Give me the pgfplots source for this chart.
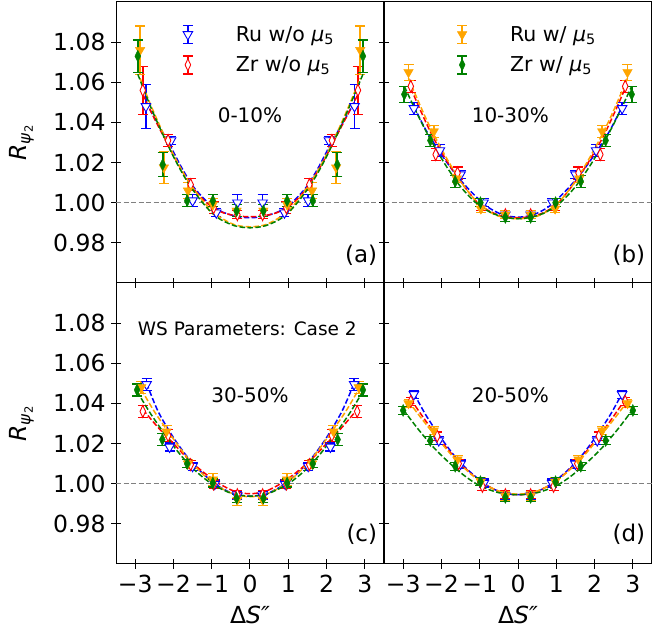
\documentclass[border=0pt]{standalone}
\usepackage{fontspec}
\setmainfont{DejaVu Sans}
\usepackage{pgfplots}
\pgfplotsset{compat=1.18}
\definecolor{cblue}{RGB}{0,0,255}
\definecolor{cred}{RGB}{255,0,0}
\definecolor{corange}{RGB}{255,165,0}
\definecolor{cgreen}{RGB}{0,128,0}
\pgfplotsset{
  ebars/.style={error bars/y dir=both, error bars/y explicit,
    error bars/error bar style={line width=1.6pt},
    error bars/error mark options={rotate=90, mark size=5pt, line width=1.3pt}},
  ruwo/.style={color=cblue, only marks, mark=triangle*, mark size=5.5pt, mark options={rotate=180, fill=white, line width=0.9pt}},
  zrwo/.style={color=cred, only marks, mark=diamond*, mark size=6pt, mark options={xscale=0.62, fill=white, line width=0.9pt}},
  ruw/.style={color=corange, only marks, mark=triangle*, mark size=5.5pt, mark options={rotate=180, fill=corange}},
  zrw/.style={color=cgreen, only marks, mark=diamond*, mark size=6pt, mark options={xscale=0.65, fill=cgreen}},
  fitc/.style={line width=1.5pt, dash pattern=on 5.5pt off 2.4pt, smooth, no markers, forget plot},
  ebleg/.style={legend image code/.code={
    \draw[draw=#1, line width=1.6pt, solid] (20pt,-9pt) -- (20pt,9pt);
    \draw[draw=#1, line width=1.3pt, solid] (15pt,-9pt) -- (25pt,-9pt) (15pt,9pt) -- (25pt,9pt);
    \draw[##1] plot coordinates {(20pt,0pt)};
    \path[draw=none, fill=none] (0pt,0pt) -- (40pt,0pt);}},
  panel/.style={width=268pt, height=281pt, scale only axis,
    xmin=-3.5, xmax=3.5, ymin=0.96, ymax=1.10,
    xtick={-3,-2,-1,0,1,2,3}, ytick={0.98,1,1.02,1.04,1.06,1.08},
    xtick pos=bottom, ytick pos=left, tick align=center, major tick length=10pt,
    tick style={black, line width=1pt}, axis line style={line width=1pt},
    tick label style={font=\fontsize{23.5}{28}\selectfont},
    yticklabel style={xshift=-2pt},
    xticklabel style={yshift=-3pt},
    xlabel style={at={(rel axis cs:0.5,-0.181)}, anchor=center, font=\fontsize{23.5}{28}\selectfont},
    ylabel style={at={(rel axis cs:-0.352,0.5)}, anchor=center, font=\fontsize{23.5}{28}\selectfont},
    legend style={draw=none, fill=none, font=\fontsize{20.5}{24}\selectfont, row sep=10pt, inner sep=0pt,
      /tikz/every odd column/.append style={column sep=26pt}},
    legend cell align=left},
  hline/.style={forget plot, color={rgb,255:red,128;green,128;blue,128}, line width=1pt, dash pattern=on 5pt off 2.5pt},
}
\newcommand{\ylab}{\textit{R}\textsubscript{\textit{ψ}\textsubscript{2}}}
\newcommand{\xlab}{Δ\textit{S″}}
\begin{document}
\begin{tikzpicture}
\useasboundingbox (0,0) rectangle (664pt,628pt);
% ---------------- (a)
\begin{axis}[panel, at={(116pt,345pt)}, anchor=south west,
  xticklabels={}, yticklabels={0.98,1.00,1.02,1.04,1.06,1.08}, ylabel={\ylab},
  legend style={at={(rel axis cs:0.5,1)}, anchor=north, xshift=2pt, yshift=-22pt}]
\addplot[hline] coordinates {(-3.5,1) (3.5,1)};
\addlegendimage{ebleg=cblue, ruwo}
\addlegendentry{Ru w/o \textit{μ}\textsubscript{5}}
\addlegendimage{ebleg=cred, zrwo}
\addlegendentry{Zr w/o \textit{μ}\textsubscript{5}}
\addplot[ruwo, ebars, forget plot] table[y error index=2] {
-2.72 1.048 0.011
-2.06 1.031 0.002
-1.50 1.001 0.003
-0.88 0.995 0.002
-0.33 1.000 0.004
0.33 1.000 0.004
0.90 0.995 0.002
1.52 1.001 0.003
2.06 1.031 0.002
2.73 1.048 0.011
};
\addplot[fitc, cblue] table {
-2.72 1.050
-2.4 1.039
-2.1 1.029
-1.8 1.018
-1.5 1.0085
-1.2 1.002
-0.9 0.997
-0.6 0.9945
-0.3 0.993
0 0.9925
0.3 0.993
0.6 0.9945
0.9 0.997
1.2 1.002
1.5 1.0085
1.8 1.018
2.1 1.029
2.4 1.039
2.73 1.050
};
\addplot[zrwo, ebars, forget plot] table[y error index=2] {
-2.80 1.056 0.012
-2.14 1.031 0.003
-1.55 1.009 0.003
-0.95 0.9975 0.003
-0.33 0.994 0.002
0.33 0.994 0.002
0.95 0.9975 0.003
1.55 1.009 0.003
2.14 1.031 0.003
2.82 1.056 0.012
};
\addplot[fitc, cred] table {
-2.8 1.054
-2.5 1.042
-2.2 1.031
-1.9 1.020
-1.6 1.0105
-1.3 1.003
-1.0 0.998
-0.7 0.995
-0.35 0.9935
0 0.993
0.35 0.9935
0.7 0.995
1.0 0.998
1.3 1.003
1.6 1.0105
1.9 1.020
2.2 1.031
2.5 1.042
2.82 1.054
};
\addplot[ruw, ebars, forget plot] table[y error index=2] {
-2.87 1.076 0.012
-2.25 1.0175 0.008
-1.62 1.006 0.004
-0.97 0.999 0.003
-0.35 0.996 0.003
0.35 0.996 0.003
0.97 0.999 0.003
1.62 1.006 0.004
2.25 1.0175 0.008
2.88 1.076 0.012
};
\addplot[fitc, corange] table {
-2.87 1.062
-2.6 1.049
-2.3 1.036
-2.0 1.024
-1.7 1.0135
-1.4 1.005
-1.1 0.998
-0.8 0.993
-0.4 0.989
0 0.988
0.4 0.989
0.8 0.993
1.1 0.998
1.4 1.005
1.7 1.0135
2.0 1.024
2.3 1.036
2.6 1.049
2.88 1.062
};
\addplot[zrw, ebars, forget plot] table[y error index=2] {
-2.93 1.073 0.008
-2.28 1.019 0.006
-1.64 1.001 0.003
-0.97 1.001 0.003
-0.35 0.996 0.003
0.35 0.996 0.003
0.97 1.001 0.003
1.64 1.001 0.003
2.28 1.019 0.006
2.95 1.073 0.008
};
\addplot[fitc, cgreen] table {
-2.93 1.064
-2.6 1.048
-2.3 1.035
-2.0 1.023
-1.7 1.0125
-1.4 1.004
-1.1 0.997
-0.8 0.992
-0.4 0.9885
0 0.9875
0.4 0.9885
0.8 0.992
1.1 0.997
1.4 1.004
1.7 1.0125
2.0 1.023
2.3 1.035
2.6 1.048
2.95 1.064
};
\node[font=\fontsize{20}{24}\selectfont] at (axis cs:0,1.0435) {0-10\%};
\node[font=\fontsize{23}{27}\selectfont, anchor=east, inner sep=0pt] at (rel axis cs:0.975,0.1) {(a)};
\end{axis}
% ---------------- (b)
\begin{axis}[panel, at={(384pt,345pt)}, anchor=south west,
  xticklabels={}, yticklabels={},
  legend style={at={(rel axis cs:0.5,1)}, anchor=north, xshift=2pt, yshift=-22pt}]
\addplot[hline] coordinates {(-3.5,1) (3.5,1)};
\addlegendimage{ebleg=corange, ruw}
\addlegendentry{Ru w/ \textit{μ}\textsubscript{5}}
\addlegendimage{ebleg=cgreen, zrw}
\addlegendentry{Zr w/ \textit{μ}\textsubscript{5}}
\addplot[ruwo, ebars, forget plot] table[y error index=2] {
-2.72 1.047 0.003
-2.04 1.026 0.003
-1.50 1.014 0.002
-0.90 1.000 0.002
-0.33 0.994 0.002
0.33 0.994 0.002
0.90 1.000 0.002
1.50 1.014 0.002
2.04 1.026 0.003
2.72 1.047 0.003
};
\addplot[fitc, cblue] table {
-2.72 1.048
-2.4 1.036
-2.0 1.024
-1.6 1.0135
-1.2 1.005
-0.8 0.998
-0.4 0.994
0 0.9928
0.4 0.994
0.8 0.998
1.2 1.005
1.6 1.0135
2.0 1.024
2.4 1.036
2.72 1.048
};
\addplot[zrwo, ebars, forget plot] table[y error index=2] {
-2.80 1.058 0.003
-2.15 1.024 0.003
-1.58 1.0148 0.003
-0.97 0.998 0.002
-0.33 0.994 0.002
0.33 0.994 0.002
0.97 0.998 0.002
1.58 1.0148 0.003
2.15 1.024 0.003
2.80 1.058 0.003
};
\addplot[fitc, cred] table {
-2.8 1.057
-2.5 1.044
-2.2 1.032
-1.8 1.019
-1.4 1.008
-1.0 0.999
-0.6 0.9945
-0.3 0.993
0 0.9925
0.3 0.993
0.6 0.9945
1.0 0.999
1.4 1.008
1.8 1.019
2.2 1.032
2.5 1.044
2.8 1.057
};
\addplot[ruw, ebars, forget plot] table[y error index=2] {
-2.86 1.065 0.004
-2.20 1.0355 0.003
-1.60 1.012 0.002
-0.97 0.997 0.002
-0.33 0.994 0.002
0.33 0.994 0.002
0.97 0.997 0.002
1.60 1.012 0.002
2.20 1.0355 0.003
2.86 1.065 0.004
};
\addplot[fitc, corange] table {
-2.86 1.062
-2.5 1.046
-2.2 1.034
-1.8 1.020
-1.4 1.008
-1.0 0.999
-0.6 0.994
-0.3 0.9925
0 0.992
0.3 0.9925
0.6 0.994
1.0 0.999
1.4 1.008
1.8 1.020
2.2 1.034
2.5 1.046
2.86 1.062
};
\addplot[zrw, ebars, forget plot] table[y error index=2] {
-2.97 1.054 0.004
-2.29 1.031 0.003
-1.64 1.0106 0.003
-0.98 1.000 0.002
-0.33 0.9927 0.002
0.33 0.9927 0.002
0.98 1.000 0.002
1.64 1.0106 0.003
2.29 1.031 0.003
2.97 1.054 0.004
};
\addplot[fitc, cgreen] table {
-2.97 1.058
-2.6 1.043
-2.3 1.032
-1.9 1.019
-1.5 1.008
-1.1 1.000
-0.7 0.995
-0.35 0.9928
0 0.992
0.35 0.9928
0.7 0.995
1.1 1.000
1.5 1.008
1.9 1.019
2.3 1.032
2.6 1.043
2.97 1.058
};
\node[font=\fontsize{20}{24}\selectfont] at (axis cs:-0.2,1.0435) {10-30\%};
\node[font=\fontsize{23}{27}\selectfont, anchor=east, inner sep=0pt] at (rel axis cs:0.975,0.1) {(b)};
\end{axis}
% ---------------- (c)
\begin{axis}[panel, at={(116pt,64pt)}, anchor=south west,
  xticklabels={−3,−2,−1,0,1,2,3}, yticklabels={0.98,1.00,1.02,1.04,1.06,1.08},
  ylabel={\ylab}, xlabel={\xlab}]
\addplot[hline] coordinates {(-3.5,1) (3.5,1)};
\addplot[ruwo, ebars, forget plot] table[y error index=2] {
-2.70 1.0495 0.003
-2.10 1.0183 0.002
-1.50 1.0087 0.002
-0.92 0.9998 0.002
-0.33 0.994 0.002
0.33 0.994 0.002
0.92 0.9998 0.002
1.52 1.0087 0.002
2.10 1.0183 0.002
2.72 1.0495 0.003
};
\addplot[fitc, cblue] table {
-2.70 1.050
-2.4 1.036
-2.0 1.023
-1.6 1.0125
-1.2 1.0045
-0.8 0.9985
-0.4 0.9948
0 0.9938
0.4 0.9948
0.8 0.9985
1.2 1.0045
1.6 1.0125
2.0 1.023
2.4 1.036
2.72 1.050
};
\addplot[zrwo, ebars, forget plot] table[y error index=2] {
-2.80 1.036 0.003
-2.14 1.024 0.003
-1.55 1.0095 0.002
-0.95 0.9998 0.002
-0.33 0.9945 0.002
0.33 0.9945 0.002
0.95 0.9998 0.002
1.55 1.0095 0.002
2.14 1.024 0.003
2.80 1.036 0.003
};
\addplot[fitc, cred] table {
-2.80 1.037
-2.4 1.028
-2.0 1.020
-1.6 1.012
-1.2 1.0055
-0.8 1.000
-0.4 0.9962
0 0.995
0.4 0.9962
0.8 1.000
1.2 1.0055
1.6 1.012
2.0 1.020
2.4 1.028
2.80 1.037
};
\addplot[ruw, ebars, forget plot] table[y error index=2] {
-2.84 1.048 0.003
-2.18 1.026 0.003
-1.62 1.010 0.002
-0.97 1.002 0.003
-0.33 0.992 0.003
0.33 0.992 0.003
0.97 1.002 0.003
1.62 1.010 0.002
2.18 1.026 0.003
2.84 1.048 0.003
};
\addplot[fitc, corange] table {
-2.84 1.047
-2.5 1.036
-2.1 1.025
-1.7 1.0145
-1.3 1.006
-0.9 0.9995
-0.45 0.995
0 0.9935
0.45 0.995
0.9 0.9995
1.3 1.006
1.7 1.0145
2.1 1.025
2.5 1.036
2.84 1.047
};
\addplot[zrw, ebars, forget plot] table[y error index=2] {
-2.95 1.0467 0.003
-2.29 1.022 0.003
-1.64 1.010 0.002
-0.97 1.0003 0.002
-0.35 0.9928 0.002
0.35 0.9928 0.002
0.97 1.0003 0.002
1.64 1.010 0.002
2.29 1.022 0.003
2.95 1.0467 0.003
};
\addplot[fitc, cgreen] table {
-2.95 1.046
-2.6 1.035
-2.2 1.024
-1.8 1.014
-1.4 1.006
-1.0 1.000
-0.5 0.9953
0 0.9938
0.5 0.9953
1.0 1.000
1.4 1.006
1.8 1.014
2.2 1.024
2.6 1.035
2.95 1.046
};
\node[font=\fontsize{18.5}{22}\selectfont] at (axis cs:-0.07,1.077) {WS Parameters: Case 2};
\node[font=\fontsize{20}{24}\selectfont] at (axis cs:0,1.044) {30-50\%};
\node[font=\fontsize{23}{27}\selectfont, anchor=east, inner sep=0pt] at (rel axis cs:0.975,0.105) {(c)};
\end{axis}
% ---------------- (d)
\begin{axis}[panel, at={(384pt,64pt)}, anchor=south west,
  xticklabels={−3,−2,−1,0,1,2,3}, yticklabels={}, xlabel={\xlab}]
\addplot[hline] coordinates {(-3.5,1) (3.5,1)};
\addplot[ruwo, ebars, forget plot] table[y error index=2] {
-2.72 1.0445 0.002
-2.07 1.0215 0.002
-1.50 1.0098 0.002
-0.89 1.0003 0.002
-0.33 0.994 0.002
0.33 0.994 0.002
0.89 1.0003 0.002
1.50 1.0098 0.002
2.07 1.0215 0.002
2.72 1.0445 0.002
};
\addplot[fitc, cblue] table {
-2.72 1.045
-2.4 1.034
-2.0 1.0225
-1.6 1.0125
-1.2 1.005
-0.8 0.999
-0.4 0.9955
0 0.9945
0.4 0.9955
0.8 0.999
1.2 1.005
1.6 1.0125
2.0 1.0225
2.4 1.034
2.72 1.045
};
\addplot[zrwo, ebars, forget plot] table[y error index=2] {
-2.80 1.041 0.002
-2.11 1.0237 0.002
-1.55 1.010 0.002
-0.93 0.9987 0.002
-0.33 0.9945 0.002
0.33 0.9945 0.002
0.93 0.9987 0.002
1.55 1.010 0.002
2.11 1.0237 0.002
2.80 1.041 0.002
};
\addplot[fitc, cred] table {
-2.80 1.042
-2.4 1.031
-2.0 1.021
-1.6 1.012
-1.2 1.0045
-0.8 0.999
-0.4 0.9955
0 0.9945
0.4 0.9955
0.8 0.999
1.2 1.0045
1.6 1.012
2.0 1.021
2.4 1.031
2.80 1.042
};
\addplot[ruw, ebars, forget plot] table[y error index=2] {
-2.86 1.040 0.002
-2.20 1.0265 0.002
-1.58 1.012 0.002
-0.97 1.001 0.002
-0.33 0.9938 0.002
0.33 0.9938 0.002
0.97 1.001 0.002
1.58 1.012 0.002
2.20 1.0265 0.002
2.86 1.040 0.002
};
\addplot[fitc, corange] table {
-2.86 1.041
-2.5 1.032
-2.1 1.0225
-1.7 1.0135
-1.3 1.006
-0.9 1.000
-0.45 0.996
0 0.9948
0.45 0.996
0.9 1.000
1.3 1.006
1.7 1.0135
2.1 1.0225
2.5 1.032
2.86 1.041
};
\addplot[zrw, ebars, forget plot] table[y error index=2] {
-3.00 1.0365 0.002
-2.29 1.0215 0.002
-1.64 1.0087 0.002
-0.98 1.001 0.002
-0.33 0.9932 0.002
0.33 0.9932 0.002
0.98 1.001 0.002
1.64 1.0087 0.002
2.29 1.0215 0.002
3.00 1.0365 0.002
};
\addplot[fitc, cgreen] table {
-3.00 1.037
-2.6 1.027
-2.2 1.018
-1.8 1.0105
-1.4 1.004
-1.0 0.999
-0.5 0.9955
0 0.9945
0.5 0.9955
1.0 0.999
1.4 1.004
1.8 1.0105
2.2 1.018
2.6 1.027
3.00 1.037
};
\node[font=\fontsize{20}{24}\selectfont] at (axis cs:-0.2,1.044) {20-50\%};
\node[font=\fontsize{23}{27}\selectfont, anchor=east, inner sep=0pt] at (rel axis cs:0.975,0.105) {(d)};
\end{axis}
\end{tikzpicture}
\end{document}
